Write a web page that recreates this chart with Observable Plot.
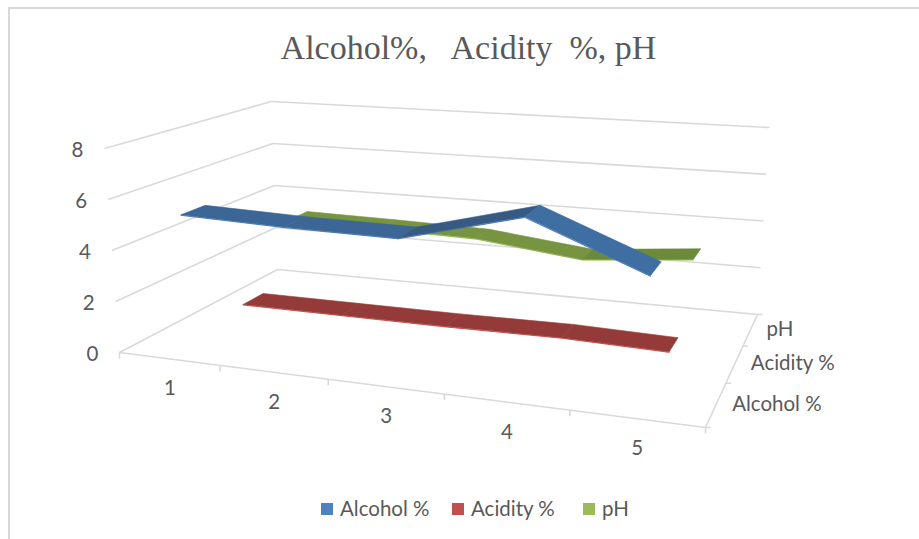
<!DOCTYPE html>
<html><head><meta charset="utf-8">
<script src="https://cdn.jsdelivr.net/npm/d3@7"></script>
<script src="https://cdn.jsdelivr.net/npm/@observablehq/plot@0.6"></script>
<style>
html,body{margin:0;padding:0;background:#fff;width:919px;height:539px;overflow:hidden}
#frame{position:absolute;left:8px;top:7px;width:911px;height:532px;border-left:2px solid #d9d9d9;border-top:2px solid #d9d9d9;box-sizing:border-box}
#title{position:absolute;left:9px;top:29px;width:919px;text-align:center;font:34px "Liberation Serif",serif;color:#595959;white-space:pre}
#chart{position:absolute;left:0;top:80px}
#legend{position:absolute;left:0;top:495px;width:919px;height:30px;font:20.5px Lato,sans-serif;color:#595959}
#legend span{position:absolute;top:1px;white-space:pre}
#legend i{position:absolute;top:8px;width:12px;height:12px}
</style></head><body>
<div id="frame"></div>
<div id="title">Alcohol%,   Acidity  %, pH</div>
<div id="chart"></div>
<div id="legend"></div>
<script>
const categories = [1, 2, 3, 4, 5];
const seriesNames = ["Alcohol %", "Acidity %", "pH"];
const alcohol = [5.2, 5.12, 5.12, 6.4, 4.65];
const acidity = [0.55, 0.55, 0.55, 0.6, 0.5];
const ph = [3.2, 3.15, 3.06, 2.55, 2.95];
const valueTicks = [0, 2, 4, 6, 8];
const legendColors = ["#4f81bd", "#c0504d", "#9bbb59"];

// Camera: the corners of the 3-D box as seen on the page
const floor = [[119,352],[705,427],[757,314],[277,269]];
const top8  = [[104,148],[717,205],[769,127],[271,101]];
const nU = categories.length, nV = seriesNames.length, wMax = 8;
function homography(q){
  const [[x0,y0],[x1,y1],[x2,y2],[x3,y3]] = q;
  const dx1=x1-x2, dx2=x3-x2, sx=x0-x1+x2-x3, dy1=y1-y2, dy2=y3-y2, sy=y0-y1+y2-y3;
  const det=dx1*dy2-dx2*dy1, g=(sx*dy2-dx2*sy)/det, h=(dx1*sy-sx*dy1)/det;
  return (s,t)=>{const d=g*s+h*t+1; return [((x1-x0+g*x1)*s+(x3-x0+h*x3)*t+x0)/d, ((y1-y0+g*y1)*s+(y3-y0+h*y3)*t+y0)/d];};
}
const H0 = homography(floor), H8 = homography(top8);
function P(u,v,w){
  const a=H0(u/nU,v/nV), b=H8(u/nU,v/nV), k=w/wMax;
  return [a[0]+(b[0]-a[0])*k, a[1]+(b[1]-a[1])*k];
}
const seg=(p,q)=>({x1:p[0],y1:p[1],x2:q[0],y2:q[1]});

const gridLines = [
  ...valueTicks.map(w=>seg(P(0,0,w),P(0,nV,w))),
  ...valueTicks.map(w=>seg(P(0,nV,w),P(nU,nV,w))),
  seg(P(0,0,0),P(nU,0,0)), seg(P(nU,0,0),P(nU,nV,0))
];
const uTicks = d3.range(nU+1).map(u=>{const p=P(u,0,0);return seg(p,[p[0],p[1]+6]);});
const vTicks = d3.range(nV+1).map(v=>{const p=P(nU,v,0);return seg(p,[p[0]+5,p[1]]);});

const shades = {
  "Alcohol %":{flat:"#3c6695",up:"#375a85",down:"#3f6ea3",edge:"#4a80c0"},
  "Acidity %":{flat:"#943a38",up:"#943a38",down:"#943a38",edge:"#d8504e"},
  "pH":{flat:"#779440",up:"#6b8a3a",down:"#779440",edge:"#a4c45c"}
};
const values = {"Alcohol %":alcohol,"Acidity %":acidity,"pH":ph};
const uShifts={"Alcohol %":[0,.05,.1,.15,.03],"Acidity %":[.02,.05,.05,.1,0],"pH":[.05,.05,.05,.05,.02]};
const bands={"Alcohol %":[0.4,0.8],"Acidity %":[0.3,0.7],"pH":[0.3,0.7]};
const polys=[], edges=[];
for (const si of [2,1,0]) {
  const name=seriesNames[si], vals=values[name], sh=shades[name], us=uShifts[name];
  const [near,far]=bands[name];
  vals.forEach((val,i)=>{
    const u=i+.5+us[i];
    const f=P(u,si+near,val);
    edges.push({id:name,color:sh.edge,x:f[0],y:f[1]});
    if(i===vals.length-1) return;
    const nx=vals[i+1], slope=nx-val, u2=i+1.5+us[i+1];
    const color= slope>0.25?sh.up:(slope<-1?sh.down:sh.flat);
    const id=name+i;
    [[u,si+near,val],[u2,si+near,nx],[u2,si+far,nx],[u,si+far,val],[u,si+near,val]]
      .forEach(c=>{const p=P(...c);polys.push({id,si,color,x:p[0],y:p[1]});});
  });
}

const labelFont={fontFamily:"Lato, sans-serif",fontSize:20.5,fill:"#595959"};
const yLabels=valueTicks.map(w=>{const p=P(0,0,w);return{t:String(w),x:p[0],y:p[1]};});
const xLabels=categories.map((c,i)=>{const p=P(i+.5,0,0);return{t:String(c),x:p[0],y:p[1]};});
const zLabels=seriesNames.map((s,i)=>{const p=P(nU,i+.5,0);return{t:s,x:p[0],y:p[1]};});

const layers=[
  Plot.link(gridLines,{x1:"x1",y1:"y1",x2:"x2",y2:"y2",stroke:"#d9d9d9",strokeWidth:1.6}),
  Plot.link(uTicks,{x1:"x1",y1:"y1",x2:"x2",y2:"y2",stroke:"#d9d9d9",strokeWidth:1.6}),
  Plot.link(vTicks,{x1:"x1",y1:"y1",x2:"x2",y2:"y2",stroke:"#d9d9d9",strokeWidth:1.6})
];
for (const si of [2,1,0]) {
  layers.push(Plot.line(edges.filter(d=>d.id===seriesNames[si]),{x:"x",y:"y",stroke:"color",strokeWidth:1,dy:0.6}));
  layers.push(Plot.line(polys.filter(d=>d.si===si),{x:"x",y:"y",z:"id",fill:"color",stroke:"color",strokeWidth:0.6}));
}
layers.push(
  Plot.text(yLabels,{x:"x",y:"y",text:"t",dx:-27,dy:1.5,...labelFont}),
  Plot.text(xLabels,{x:"x",y:"y",text:"t",dx:1,dy:30,...labelFont}),
  Plot.text(zLabels,{x:"x",y:"y",text:"t",dx:16,textAnchor:"start",...labelFont})
);
const chart=Plot.plot({
  width:919,height:400,margin:0,
  x:{domain:[0,919],range:[0,919],axis:null},
  y:{domain:[80,480],range:[0,400],axis:null},
  color:{type:"identity"},
  style:{background:"transparent"},
  marks:layers
});
document.getElementById("chart").append(chart);

const legendX=[[321,340],[452,471],[583,602]];
const lg=document.getElementById("legend");
seriesNames.forEach((s,i)=>{
  const sw=document.createElement("i");sw.style.left=legendX[i][0]+"px";sw.style.background=legendColors[i];lg.append(sw);
  const t=document.createElement("span");t.style.left=legendX[i][1]+"px";t.textContent=s;lg.append(t);
});
</script>
</body></html>
